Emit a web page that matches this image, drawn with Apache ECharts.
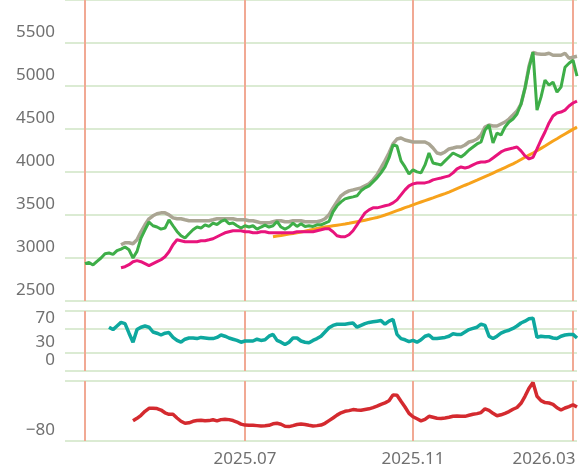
<!DOCTYPE html>
<html>
<head>
<meta charset="utf-8">
<script src="https://cdn.jsdelivr.net/npm/echarts@6/dist/echarts.min.js"></script>
<style>
    html, body { margin: 0; padding: 0; background: #fff; }
    #main { width: 587px; height: 474px; }
</style>
</head>
<body>
<div id="main"></div>
<script>
// 月份刻度（类目下标）及标签
var tickIdx = [5, 45, 87, 127];
var tickLabels = ['', '2025.07', '2025.11', '2026.03'];
var pointCount = 129;
// RSI 面板刻度
var rsiTicks = [0, 30, 70, 100];
var rsiLabels = [0, 30, 70];

// 收盘价
var closeStart = 5;
var closeData = [2934, 2949, 2919, 2961, 3000, 3050, 3058, 3042, 3085, 3104,
    3128, 3096, 3000, 3077, 3232, 3328, 3418, 3375, 3360, 3336,
    3348, 3444, 3375, 3309, 3259, 3232, 3282, 3328, 3360, 3348,
    3386, 3367, 3406, 3390, 3425, 3444, 3398, 3406, 3375, 3348,
    3375, 3360, 3375, 3336, 3360, 3383, 3360, 3375, 3425, 3360,
    3336, 3360, 3406, 3367, 3398, 3367, 3375, 3367, 3386, 3386,
    3406, 3425, 3537, 3607, 3653, 3688, 3700, 3711, 3723, 3781,
    3815, 3839, 3885, 3931, 3990, 4059, 4163, 4314, 4302, 4129,
    4059, 3978, 4024, 4001, 3990, 4082, 4221, 4105, 4094, 4082,
    4129, 4175, 4221, 4198, 4175, 4210, 4256, 4291, 4326, 4349,
    4488, 4546, 4337, 4453, 4430, 4523, 4581, 4616, 4674, 4790,
    4975, 5207, 5393, 4720, 4870, 5068, 5010, 5045, 4929, 4987,
    5218, 5265, 5300, 5114];

// 区间最高
var highStart = 14;
var highData = [3154, 3177, 3177, 3166, 3212, 3305, 3386, 3456, 3491, 3514,
    3525, 3525, 3502, 3467, 3456, 3456, 3444, 3433, 3433, 3433,
    3433, 3433, 3433, 3444, 3456, 3456, 3456, 3456, 3456, 3444,
    3444, 3444, 3433, 3433, 3421, 3409, 3409, 3409, 3421, 3433,
    3433, 3421, 3421, 3433, 3433, 3433, 3421, 3421, 3421, 3421,
    3433, 3456, 3502, 3583, 3653, 3723, 3758, 3781, 3792, 3804,
    3815, 3839, 3862, 3908, 3966, 4047, 4129, 4221, 4326, 4384,
    4396, 4372, 4361, 4349, 4349, 4349, 4349, 4326, 4279, 4221,
    4210, 4233, 4268, 4279, 4291, 4291, 4314, 4349, 4361, 4384,
    4430, 4523, 4546, 4535, 4535, 4558, 4581, 4616, 4662, 4709,
    4790, 4975, 5230, 5390, 5375, 5370, 5369, 5381, 5358, 5358,
    5358, 5381, 5323, 5335, 5346];

// 短期均线
var maShortStart = 14;
var maShortData = [2887, 2899, 2922, 2957, 2969, 2957, 2934, 2911, 2934, 2957,
    2980, 3015, 3073, 3154, 3212, 3201, 3189, 3189, 3189, 3189,
    3201, 3201, 3212, 3224, 3247, 3270, 3293, 3305, 3317, 3317,
    3317, 3305, 3305, 3293, 3293, 3305, 3305, 3293, 3293, 3293,
    3293, 3293, 3293, 3293, 3305, 3305, 3305, 3305, 3305, 3317,
    3328, 3340, 3340, 3305, 3259, 3247, 3247, 3270, 3317, 3386,
    3456, 3525, 3560, 3583, 3583, 3595, 3607, 3618, 3641, 3676,
    3734, 3792, 3839, 3862, 3873, 3873, 3873, 3885, 3908, 3920,
    3931, 3943, 3955, 3990, 4036, 4059, 4047, 4059, 4082, 4105,
    4117, 4117, 4129, 4163, 4198, 4233, 4256, 4268, 4279, 4291,
    4245, 4187, 4152, 4170, 4268, 4372, 4465, 4570, 4651, 4686,
    4697, 4720, 4767, 4802, 4825];

// 长期均线
var maLongStart = 52;
var maLongData = [3247, 3255, 3262, 3270, 3278, 3285, 3293, 3302, 3312, 3322,
    3333, 3343, 3353, 3360, 3367, 3374, 3381, 3388, 3395, 3403,
    3412, 3421, 3430, 3440, 3450, 3461, 3471, 3484, 3500, 3517,
    3534, 3551, 3567, 3585, 3601, 3618, 3635, 3651, 3667, 3683,
    3699, 3717, 3733, 3749, 3767, 3786, 3806, 3826, 3846, 3865,
    3885, 3905, 3926, 3947, 3967, 3988, 4009, 4030, 4052, 4073,
    4094, 4119, 4145, 4172, 4197, 4221, 4247, 4275, 4303, 4332,
    4361, 4387, 4415, 4442, 4469, 4496, 4523];

// RSI
var rsiStart = 11;
var rsiData = [73, 69, 75, 81, 79, 63, 48, 69, 73, 75,
    73, 65, 63, 60, 63, 64, 56, 51, 48, 53,
    55, 55, 54, 56, 55, 54, 54, 56, 60, 58,
    55, 53, 51, 48, 50, 50, 50, 53, 51, 52,
    58, 61, 51, 48, 44, 48, 55, 55, 50, 48,
    47, 51, 54, 58, 65, 72, 76, 78, 78, 78,
    79, 80, 73, 76, 79, 81, 82, 83, 84, 78,
    83, 86, 61, 54, 52, 49, 51, 48, 52, 58,
    60, 54, 54, 55, 56, 58, 62, 61, 61, 65,
    69, 71, 73, 78, 76, 58, 54, 58, 63, 66,
    68, 71, 75, 80, 83, 87, 88, 56, 58, 57,
    57, 55, 54, 58, 60, 61, 61, 55];

// 振荡指标
var oscStart = 17;
var oscData = [-53.1, -49.7, -45.7, -40.4, -36.4, -36.4, -36.8, -38.7, -42.4, -44.4,
    -44.4, -49.3, -53.7, -56.4, -55.7, -53.7, -52.8, -52.4, -53.1, -52.8,
    -51.7, -53.1, -51.5, -51.1, -51.5, -52.7, -54.7, -57.5, -58.8, -59.1,
    -59.1, -59.5, -59.9, -59.6, -59.1, -57.1, -56.4, -57.7, -60.4, -60.8,
    -59.5, -58.0, -57.3, -58.0, -59.1, -60.0, -59.5, -58.8, -56.4, -52.8,
    -49.3, -45.5, -42.4, -40.4, -39.5, -38.1, -38.7, -39.1, -38.1, -37.1,
    -35.5, -33.5, -31.1, -29.1, -26.4, -18.5, -19.0, -27.1, -34.7, -43.1,
    -47.7, -50.4, -53.1, -51.1, -47.1, -48.4, -49.7, -50.1, -49.3, -48.4,
    -47.1, -46.8, -47.1, -47.1, -45.7, -44.4, -43.5, -42.1, -37.1, -39.1,
    -43.1, -46.4, -45.1, -43.1, -40.8, -37.7, -35.3, -29.7, -20.4, -9.7,
    -2.0, -20.4, -26.1, -28.8, -29.3, -31.1, -35.7, -38.7, -36.0, -34.1,
    -31.7, -34.7];

var categories = [];
for (var c = 0; c < pointCount; c++) {
    categories.push(String(c));
}

// 前面补空值，对齐类目轴
function pad(start, arr) {
    var out = [];
    for (var i = 0; i < start; i++) {
        out.push(null);
    }
    return out.concat(arr);
}

var labelFont = {
    color: '#707070',
    fontSize: 17,
    fontFamily: 'Noto Sans'
};
var hLine = { color: '#dbebd3', width: 2 };
var vLine = { color: '#f1a994', width: 2 };

function isTick(i) {
    return tickIdx.indexOf(i) > -1;
}

function makeXAxis(gridIndex, showLabel) {
    return {
        type: 'category',
        gridIndex: gridIndex,
        data: categories,
        boundaryGap: false,
        axisLine: { show: false },
        axisTick: { show: false },
        axisLabel: {
            show: showLabel,
            interval: isTick,
            margin: 10,
            color: labelFont.color,
            fontSize: labelFont.fontSize,
            fontFamily: labelFont.fontFamily,
            formatter: function (v, i) {
                var k = tickIdx.indexOf(i);
                if (k < 0) return '';
                // 最后一个标签向左靠
                if (k == tickLabels.length - 1) return '{r|' + tickLabels[k] + '}';
                return tickLabels[k];
            },
            rich: {
                r: {
                    color: labelFont.color,
                    fontSize: labelFont.fontSize,
                    fontFamily: labelFont.fontFamily,
                    padding: [0, 58, 0, 0]
                }
            }
        },
        splitLine: { show: true, interval: isTick, lineStyle: vLine }
    };
}

function yLabel(extra) {
    var o = {
        color: labelFont.color,
        fontSize: labelFont.fontSize,
        fontFamily: labelFont.fontFamily,
        verticalAlign: 'bottom',
        lineHeight: 21,
        margin: 10,
        showMaxLabel: false,
        formatter: function (v) { return v < 0 ? '\u2212' + (-v) : String(v); }
    };
    for (var p in extra) o[p] = extra[p];
    return o;
}

// RSI 面板每个标签单独一根轴，避免被自动隐藏
function rsiLabelAxis(v) {
    return {
        type: 'value', gridIndex: 1, min: 0, max: 100,
        position: 'left', offset: 0,
        axisLine: { show: false }, axisTick: { show: false },
        splitLine: { show: false },
        axisLabel: yLabel({ customValues: [v], showMinLabel: true, showMaxLabel: true })
    };
}

function lineSeries(name, x, y, data, color, width) {
    return {
        name: name,
        type: 'line',
        xAxisIndex: x,
        yAxisIndex: y,
        data: data,
        symbol: 'none',
        lineStyle: { color: color, width: width },
        itemStyle: { color: color }
    };
}

var chart = echarts.init(document.getElementById('main'));
var yAxes = [{
    type: 'value', gridIndex: 0, min: 2500, max: 6000, interval: 500,
    position: 'left',
    axisLine: { show: false }, axisTick: { show: false },
    axisLabel: yLabel({}),
    splitLine: { lineStyle: hLine }
}, {
    type: 'value', gridIndex: 1, min: 0, max: 100,
    position: 'left',
    axisLine: { show: false },
    axisTick: { show: false, customValues: rsiTicks },
    axisLabel: { show: false },
    splitLine: { lineStyle: hLine }
}, {
    type: 'value', gridIndex: 2, min: -80, max: 0, interval: 80,
    position: 'left',
    axisLine: { show: false }, axisTick: { show: false },
    axisLabel: yLabel({}),
    splitLine: { lineStyle: hLine }
}];
for (var k = 0; k < rsiLabels.length; k++) {
    yAxes.push(rsiLabelAxis(rsiLabels[k]));
}

var option = {
    animation: false,
    backgroundColor: '#fff',
    grid: [
        { left: 65, right: 10, top: -3, height: 304 },
        { left: 65, right: 10, top: 311, height: 60 },
        { left: 65, right: 10, top: 381, height: 60 }
    ],
    xAxis: [makeXAxis(0, false), makeXAxis(1, false), makeXAxis(2, true)],
    yAxis: yAxes,
    series: [
        lineSeries('长期均线', 0, 0, pad(maLongStart, maLongData), '#f7a21b', 3),
        lineSeries('短期均线', 0, 0, pad(maShortStart, maShortData), '#e8147c', 3),
        lineSeries('区间最高', 0, 0, pad(highStart, highData), '#aaa593', 3.5),
        lineSeries('收盘价', 0, 0, pad(closeStart, closeData), '#3eae48', 3),
        lineSeries('RSI', 1, 1, pad(rsiStart, rsiData), '#0ea89f', 3.5),
        lineSeries('振荡', 2, 2, pad(oscStart, oscData), '#d42a2f', 3.5)
    ]
};
chart.setOption(option);
</script>
</body>
</html>
